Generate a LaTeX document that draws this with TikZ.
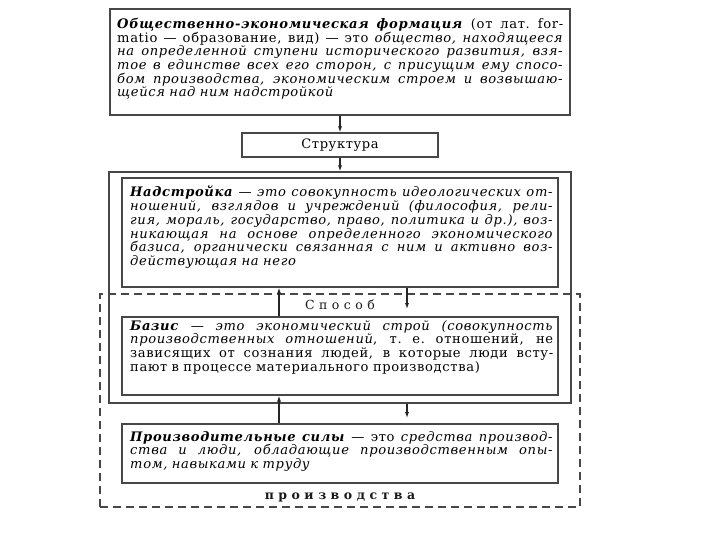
\documentclass[tikz,border=0pt]{standalone}
\usepackage{fontspec}
\setmainfont{DejaVu Serif}[LetterSpace=5]
\newfontfamily\spacedfont{DejaVu Serif}[LetterSpace=36]
\usetikzlibrary{arrows.meta}
\newcommand{\linew}{446pt}
\newcommand{\jl}[1]{\makebox[\linew][s]{\spaceskip=0.32em plus 4em minus 0.08em\xspaceskip=\spaceskip #1}\par}
\newcommand{\bi}[1]{\textbf{\textit{#1}}}
\begin{document}
\begin{tikzpicture}[x=1pt,y=-1pt,
  box/.style={draw=black!72, line width=1.3pt, inner sep=0pt, fill=none},
  dbox/.style={draw=black!72, line width=1.1pt, inner sep=0pt, dash pattern=on 8pt off 5pt},
  txt/.style={text width=#1, inner sep=0pt, anchor=north west, align=left,
     font=\fontsize{13.1}{13.7}\selectfont, text=black},
  arr/.style={draw=black!85, line width=1.3pt, -{Latex[length=6pt,width=4.2pt]}},
  lbl/.style={inner sep=0pt, text=black!90, font=\fontsize{12.5}{13.6}\selectfont}]
\useasboundingbox (0,0) rectangle (720,540);

% boxes
\node[box, minimum width=460pt, minimum height=106pt] (top) at (340,62) {};
\node[box, minimum width=196pt, minimum height=24pt] (struct) at (340,145)
  {\fontsize{13}{13.6}\selectfont Структура};
\node[box, minimum width=462pt, minimum height=231pt] (outer) at (340,287.5) {};
\node[box, minimum width=436pt, minimum height=109pt] (nad) at (340,232.5) {};
\node[box, minimum width=436pt, minimum height=78pt] (baz) at (340,356) {};
\node[box, minimum width=436pt, minimum height=59pt] (prod) at (340,453.5) {};
\node[dbox, minimum width=480pt, minimum height=213pt] (dash) at (340,400.5) {};

% texts
\node[txt=446pt] (topt) at (117,18) {\renewcommand{\linew}{446pt}%
\jl{\bi{Общественно-экономическая формация} (от лат. for-}
\jl{matio — образование, вид) — это \textit{общество, находящееся}}
\jl{\textit{на определенной ступени исторического развития, взя-}}
\jl{\textit{тое в единстве всех его сторон, с присущим ему спосо-}}
\jl{\textit{бом производства, экономическим строем и возвышаю-}}
\textit{щейся над ним надстройкой}};

\node[txt=423pt] (nadt) at (130,186) {\renewcommand{\linew}{423pt}%
\jl{\bi{Надстройка} — \textit{это совокупность идеологических от-}}
\jl{\textit{ношений, взглядов и учреждений (философия, рели-}}
\jl{\textit{гия, мораль, государство, право, политика и др.), воз-}}
\jl{\textit{никающая на основе определенного экономического}}
\jl{\textit{базиса, органически связанная с ним и активно воз-}}
\textit{действующая на него}};

\node[txt=423pt] (bazt) at (130,320) {\renewcommand{\linew}{423pt}%
\jl{\bi{Базис} — \textit{это экономический строй (совокупность}}
\jl{\textit{производственных отношений}, т. е. отношений, не}
\jl{зависящих от сознания людей, в которые люди всту-}
пают в процессе материального производства)};

\node[txt=423pt] (prodt) at (130,431) {\renewcommand{\linew}{423pt}%
\jl{\bi{Производительные силы} — это \textit{средства производ-}}
\jl{\textit{ства и люди, обладающие производственным опы-}}
\textit{том, навыками к труду}};

\node[lbl] (sposob) at (340,305) {\spacedfont Способ};
\node[lbl] (proizv) at (340,497) {\spacedfont\bfseries производства};

% arrows
\coordinate (xl) at (279,0);
\coordinate (xr) at (407,0);
\coordinate (e1) at (407,309);
\coordinate (e2) at (407,418);
\draw[arr] (top.south) -- (top.south |- struct.north);
\draw[arr] (struct.south) -- (struct.south |- outer.north);
\draw[arr] (xl |- baz.north) -- (xl |- nad.south);
\draw[arr] (xr |- nad.south) -- (e1);
\draw[arr] (xl |- prod.north) -- (xl |- baz.south);
\draw[arr] (xr |- outer.south) -- (e2);
\end{tikzpicture}
\end{document}
